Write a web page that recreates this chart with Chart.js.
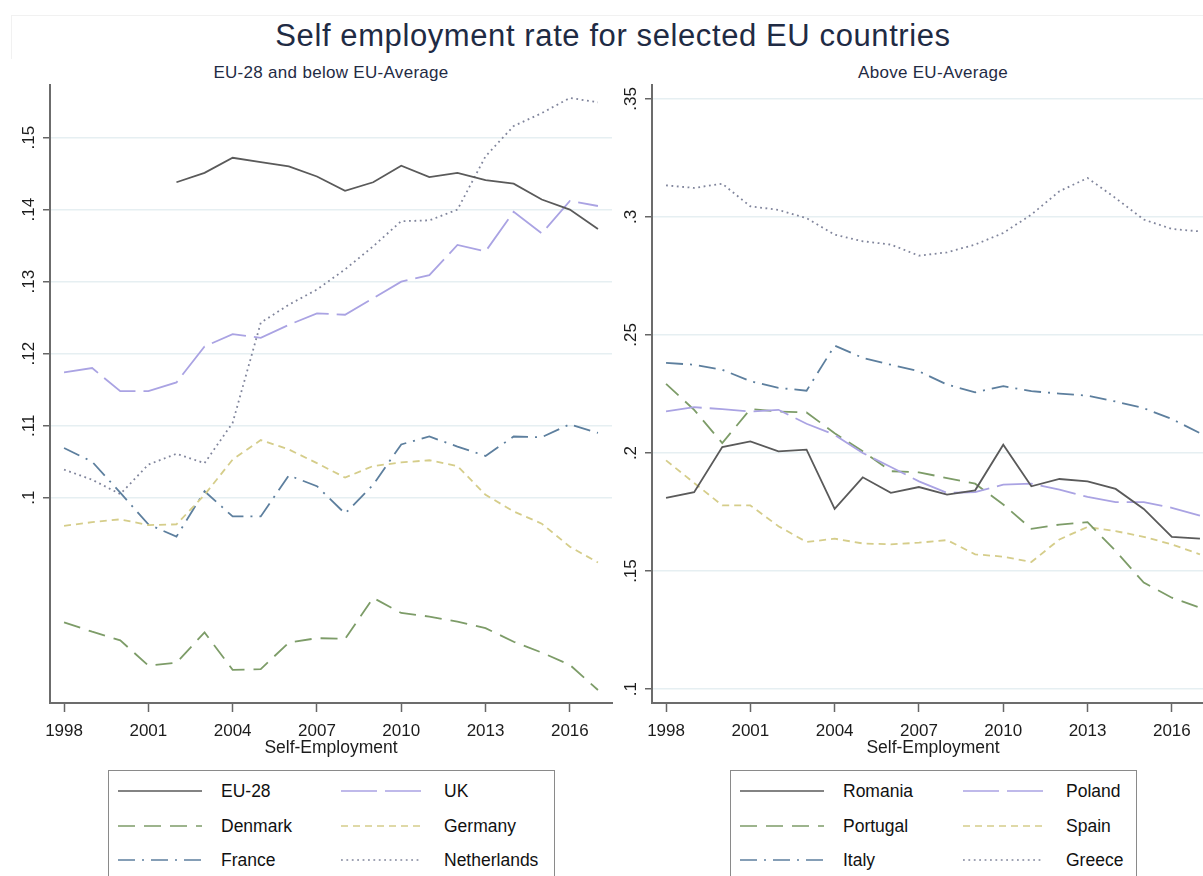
<!DOCTYPE html>
<html lang="en">
<head>
<meta charset="UTF-8">
<title>Self employment rate for selected EU countries</title>
<script src="https://cdn.jsdelivr.net/npm/chart.js"></script>
<style>
    html, body {
        margin: 0;
        padding: 0;
        background: #fff;
        width: 1203px;
        height: 876px;
        overflow: hidden;
        font-family: "Liberation Sans", Arial, sans-serif;
    }
    #frame {
        position: absolute;
        left: 11px; top: 15px;
        width: 1300px; height: 43px;
        border-top: 1px solid #f1f1f1;
        border-left: 1px solid #f1f1f1;
    }
    #title {
        position: absolute;
        left: 613px; top: 18px;
        transform: translateX(-50%);
        white-space: nowrap;
        font-size: 31px;
        letter-spacing: 0.6px;
        color: #1f2b44;
    }
    .sub {
        position: absolute;
        top: 63px;
        transform: translateX(-50%);
        white-space: nowrap;
        font-size: 17px;
        letter-spacing: 0.3px;
        color: #1f2b44;
    }
    .wrap {
        position: absolute;
        top: 60px;
        width: 620px;
        height: 700px;
    }
    .legend {
        position: absolute;
        top: 770px;
        height: 140px;
        border: 1.5px solid #8a8a8a;
        box-sizing: border-box;
        font-size: 17.5px;
        color: #111;
    }
    .legend .item {
        position: absolute;
        height: 20px;
        line-height: 20px;
        white-space: nowrap;
    }
    .legend svg {
        position: absolute;
        top: 7px;
    }
    .legend span {
        position: absolute;
    }
</style>
</head>
<body>
<div id="frame"></div>
<div id="title">Self employment rate for selected EU countries</div>
<div class="sub" style="left:331px">EU-28 and below EU-Average</div>
<div class="sub" style="left:933px">Above EU-Average</div>

<div class="wrap" style="left:0px"><canvas id="leftChart"></canvas></div>
<div class="wrap" style="left:620px"><canvas id="rightChart"></canvas></div>

<div class="legend" id="legLeft" style="left:108px; width:447px"></div>
<div class="legend" id="legRight" style="left:730px; width:407px"></div>

<script>
    // --- data ---
    const years = [1998, 1999, 2000, 2001, 2002, 2003, 2004, 2005, 2006, 2007,
                   2008, 2009, 2010, 2011, 2012, 2013, 2014, 2015, 2016, 2017];
    const xTicks = [1998, 2001, 2004, 2007, 2010, 2013, 2016];

    // left panel: EU-28 and below EU-Average
    const leftNames = ['EU-28', 'UK', 'Denmark', 'Germany', 'France', 'Netherlands'];
    const eu28 = [null, null, null, null, 0.1438, 0.1451, 0.1472, 0.1466, 0.1460, 0.1446,
                  0.1426, 0.1438, 0.1461, 0.1445, 0.1451, 0.1441, 0.1436, 0.1414, 0.1400, 0.1373];
    const uk = [0.1174, 0.1180, 0.1148, 0.1148, 0.1160, 0.1210, 0.1227, 0.1222, 0.1240, 0.1256,
                0.1254, 0.1277, 0.1300, 0.1309, 0.1351, 0.1342, 0.1397, 0.1367, 0.1412, 0.1405];
    const denmark = [0.0827, 0.0814, 0.0802, 0.0767, 0.0771, 0.0813, 0.0761, 0.0762, 0.0799, 0.0805,
                     0.0804, 0.0861, 0.0840, 0.0835, 0.0828, 0.0819, 0.0800, 0.0785, 0.0768, 0.0733];
    const germany = [0.0961, 0.0966, 0.0970, 0.0962, 0.0963, 0.1004, 0.1053, 0.1080, 0.1067, 0.1048,
                     0.1028, 0.1044, 0.1049, 0.1052, 0.1044, 0.1004, 0.0981, 0.0964, 0.0932, 0.0910];
    const france = [0.1069, 0.1050, 0.1007, 0.0963, 0.0946, 0.1009, 0.0974, 0.0974, 0.1031, 0.1016,
                    0.0978, 0.1018, 0.1074, 0.1085, 0.1071, 0.1058, 0.1085, 0.1084, 0.1102, 0.1090];
    const netherlands = [0.1039, 0.1025, 0.1005, 0.1046, 0.1061, 0.1048, 0.1104, 0.1243, 0.1268, 0.1289,
                         0.1317, 0.1349, 0.1384, 0.1385, 0.1400, 0.1474, 0.1516, 0.1534, 0.1555, 0.1549];
    const leftTicks = [0.10, 0.11, 0.12, 0.13, 0.14, 0.15];
    const leftTickLabels = ['.1', '.11', '.12', '.13', '.14', '.15'];

    // right panel: Above EU-Average
    const rightNames = ['Romania', 'Poland', 'Portugal', 'Spain', 'Italy', 'Greece'];
    const romania = [0.1810, 0.1834, 0.2025, 0.2049, 0.2007, 0.2014, 0.1763, 0.1897, 0.1831, 0.1856,
                     0.1824, 0.1842, 0.2035, 0.1859, 0.1890, 0.1880, 0.1848, 0.1763, 0.1645, 0.1637];
    const poland = [0.2176, 0.2194, 0.2186, 0.2176, 0.2183, 0.2124, 0.2077, 0.2000, 0.1941, 0.1880,
                    0.1831, 0.1834, 0.1866, 0.1870, 0.1845, 0.1814, 0.1792, 0.1792, 0.1768, 0.1735];
    const portugal = [0.2293, 0.2183, 0.2042, 0.2186, 0.2176, 0.2172, 0.2084, 0.2007, 0.1923, 0.1918,
                      0.1894, 0.1870, 0.1782, 0.1679, 0.1697, 0.1707, 0.1585, 0.1451, 0.1387, 0.1345];
    const spain = [0.1969, 0.1873, 0.1778, 0.1778, 0.1690, 0.1623, 0.1637, 0.1617, 0.1613, 0.1620,
                   0.1631, 0.1571, 0.1561, 0.1538, 0.1634, 0.1687, 0.1669, 0.1645, 0.1613, 0.1571];
    const italy = [0.2382, 0.2374, 0.2353, 0.2304, 0.2276, 0.2264, 0.2455, 0.2403, 0.2374, 0.2346,
                   0.2290, 0.2257, 0.2283, 0.2262, 0.2252, 0.2243, 0.2218, 0.2190, 0.2144, 0.2084];
    const greece = [0.3134, 0.3123, 0.3141, 0.3045, 0.3030, 0.2995, 0.2925, 0.2897, 0.2883, 0.2836,
                    0.2850, 0.2883, 0.2932, 0.3010, 0.3109, 0.3165, 0.3080, 0.2989, 0.2949, 0.2939];
    const rightTicks = [0.10, 0.15, 0.20, 0.25, 0.30, 0.35];
    const rightTickLabels = ['.1', '.15', '.2', '.25', '.3', '.35'];

    // --- line styles (same order in both panels) ---
    const lineStyles = [
        { color: '#5a5a5a', dash: [] },             // solid
        { color: '#aaa3e3', dash: [36, 8] },        // long dash
        { color: '#7d9c68', dash: [17, 9] },        // dash
        { color: '#d5cd8a', dash: [7, 5] },         // short dash
        { color: '#5d7f9e', dash: [17, 7, 2, 7] },  // dash dot
        { color: '#80859c', dash: [1.8, 3.6] }      // dot
    ];

    const FONT = '"Liberation Sans", Arial, sans-serif';

    // y tick labels, rotated like the original
    const yLabelPlugin = {
        id: 'yLabels',
        afterDraw(chart, args, opts) {
            const s = chart.scales.y;
            const ctx = chart.ctx;
            ctx.save();
            ctx.font = '17px ' + FONT;
            ctx.fillStyle = '#1c1c1c';
            ctx.textAlign = 'center';
            ctx.textBaseline = 'middle';
            s.ticks.forEach((t, i) => {
                const y = s.getPixelForValue(t.value);
                ctx.save();
                ctx.translate(s.right - 21, y);
                ctx.rotate(-Math.PI / 2);
                ctx.fillText(opts.labels[i], 0, 0);
                ctx.restore();
            });
            ctx.restore();
        }
    };

    function makeChart(id, names, series, yMin, yMax, yTicks, yTickLabels, axisWidth, padRight) {
        const datasets = series.map((vals, i) => ({
            label: names[i],
            data: years.map((yr, j) => ({ x: yr, y: vals[j] })),
            borderColor: lineStyles[i].color,
            borderDash: lineStyles[i].dash,
            borderWidth: 1.8,
            pointRadius: 0,
            fill: false,
            tension: 0,
            spanGaps: false
        }));

        return new Chart(document.getElementById(id), {
            type: 'line',
            data: { datasets: datasets },
            plugins: [yLabelPlugin],
            options: {
                responsive: true,
                maintainAspectRatio: false,
                animation: false,
                layout: { padding: { top: 25, right: padRight, left: 0, bottom: 0 } },
                plugins: {
                    legend: { display: false },
                    tooltip: { enabled: false },
                    yLabels: { labels: yTickLabels }
                },
                scales: {
                    x: {
                        type: 'linear',
                        min: 1997.5,
                        max: 2017.5,
                        afterBuildTicks: s => { s.ticks = xTicks.map(v => ({ value: v })); },
                        afterFit: s => { s.height = 57; },
                        grid: {
                            drawOnChartArea: false,
                            drawTicks: true,
                            tickLength: 9,
                            tickColor: '#666',
                            tickWidth: 1.5
                        },
                        border: { display: true, color: '#6c6c6c', width: 2 },
                        ticks: {
                            autoSkip: false,
                            maxRotation: 0,
                            padding: 9,
                            color: '#1c1c1c',
                            font: { family: FONT, size: 17 },
                            callback: v => String(v)
                        },
                        title: {
                            display: true,
                            text: 'Self-Employment',
                            color: '#1c1c1c',
                            font: { family: FONT, size: 17.5 },
                            padding: { top: 0, bottom: 1 }
                        }
                    },
                    y: {
                        min: yMin,
                        max: yMax,
                        afterBuildTicks: s => { s.ticks = yTicks.map(v => ({ value: v })); },
                        afterFit: s => { s.width = axisWidth; },
                        grid: {
                            color: '#e6eff2',
                            lineWidth: 1.5,
                            drawTicks: true,
                            tickLength: 7,
                            tickColor: '#666',
                            tickWidth: 1.5
                        },
                        border: { display: true, color: '#6c6c6c', width: 2 },
                        ticks: {
                            color: 'rgba(0,0,0,0)',
                            font: { family: FONT, size: 17 }
                        }
                    }
                }
            }
        });
    }

    makeChart('leftChart', leftNames,
        [eu28, uk, denmark, germany, france, netherlands],
        0.0715, 0.1573, leftTicks, leftTickLabels, 50, 8);

    makeChart('rightChart', rightNames,
        [romania, poland, portugal, spain, italy, greece],
        0.0941, 0.3559, rightTicks, rightTickLabels, 32, 26);

    // --- legends (two columns, three rows) ---
    function buildLegend(id, names) {
        const box = document.getElementById(id);
        const rowY = [10, 44.5, 79];
        const sampleX = [9, 232], sampleW = [84, 80], textX = [112, 335];
        names.forEach((name, i) => {
            const row = Math.floor(i / 2), col = i % 2;
            const st = lineStyles[i];
            const item = document.createElement('div');
            item.className = 'item';
            item.style.top = rowY[row] + 'px';
            item.style.left = '0px';
            const w = sampleW[col];
            item.innerHTML =
                '<svg width="' + w + '" height="6" style="left:' + sampleX[col] + 'px">' +
                '<line x1="0" y1="3" x2="' + w + '" y2="3" stroke="' + st.color + '" stroke-width="1.6"' +
                (st.dash.length ? ' stroke-dasharray="' + st.dash.join(',') + '"' : '') + '/></svg>' +
                '<span style="left:' + textX[col] + 'px">' + name + '</span>';
            box.appendChild(item);
        });
    }
    buildLegend('legLeft', leftNames);
    buildLegend('legRight', rightNames);
</script>
</body>
</html>
